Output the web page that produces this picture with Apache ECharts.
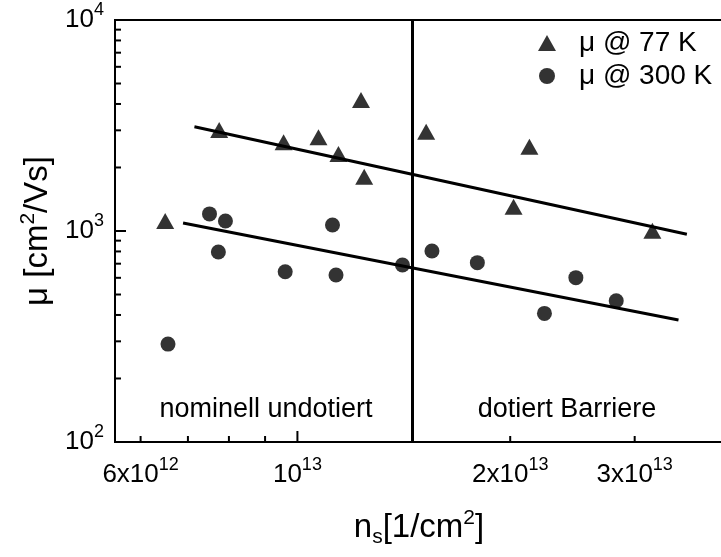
<!DOCTYPE html>
<html>
<head>
<meta charset="utf-8">
<script src="https://cdn.jsdelivr.net/npm/echarts@6/dist/echarts.min.js"></script>
<style>html,body{margin:0;padding:0;background:#fff}#c{width:721px;height:557px}</style>
</head>
<body>
<div id="c"></div>
<script>
// ---- data ----
const seriesNames = ['μ @ 77 K', 'μ @ 300 K'];
const ns77 = [6.50e12, 7.75e12, 9.56e12, 1.071e13, 1.143e13, 1.230e13, 1.243e13, 1.521e13, 2.022e13, 2.129e13, 3.178e13];
const mu77 = [1115, 3011, 2633, 2780, 2317, 4178, 1808, 2955, 1304, 2509, 1003];
const ns300 = [6.56e12, 7.51e12, 7.73e12, 7.91e12, 9.61e12, 1.121e13, 1.134e13, 1.408e13, 1.550e13, 1.797e13, 2.236e13, 2.477e13, 2.825e13];
const mu300 = [291, 1205, 795, 1115, 641, 1068, 619, 690, 804, 708, 407, 601, 467];
const fitNs77 = [7.15e12, 3.556e13];
const fitMu77 = [3121, 965];
const fitNs300 = [6.89e12, 3.46e13];
const fitMu300 = [1091, 379];
const boundaryNs = 1.453e13;
const regionLabels = ['nominell undotiert', 'dotiert Barriere'];

const xRange = [5.52e12, 4.0e13];
const yRange = [100, 10000];
const xLabelValues = [6e12, 1e13, 2e13, 3e13];
const xLabelTexts = ['{b|6x10}{s|12}', '{b|10}{s|13}', '{b|2x10}{s|13}', '{b|3x10}{s|13}'];
const xMajorTicks = [1e13];
const xMinorTicks = [6e12, 7e12, 8e12, 9e12, 2e13, 3e13, 4e13];
const yLabelValues = [100, 1000, 10000];
const yLabelTexts = ['{b|10}{s|2}', '{b|10}{s|3}', '{b|10}{s|4}'];
const yMajorTicks = [100, 1000, 10000];
const yMinorTicks = [200, 300, 400, 500, 600, 700, 800, 900, 2000, 3000, 4000, 5000, 6000, 7000, 8000, 9000];
const xTitle = '{t|n}{sub|s}{t|[1/cm}{sup|2}{t|]}';
const yTitle = '{t|μ [cm}{sup|2}{t|/Vs]}';

// ---- helpers ----
const FONT = '"Liberation Sans", Arial, Helvetica, sans-serif';
function pick(values, texts, v) {
  let best = 0, bd = Infinity;
  values.forEach((t, i) => {
    const d = Math.abs(Math.log10(t) - Math.log10(v));
    if (d < bd) { bd = d; best = i; }
  });
  return bd < 0.01 ? texts[best] : '';
}
const pairs = (xs, ys) => xs.map((x, i) => [x, ys[i]]);
const labelRich = {
  b: { fontSize: 26, lineHeight: 38, fontFamily: FONT, color: '#000' },
  s: { fontSize: 18, lineHeight: 18, verticalAlign: 'top', fontFamily: FONT, color: '#000' }
};
const titleRich = {
  t: { fontSize: 33, lineHeight: 40, fontFamily: FONT, color: '#000' },
  sup: { fontSize: 21, lineHeight: 21, verticalAlign: 'top', fontFamily: FONT, color: '#000' },
  sub: { fontSize: 21, lineHeight: 21, verticalAlign: 'bottom', fontFamily: FONT, color: '#000' }
};
const axisLineStyle = { color: '#000', width: 2 };
const TICK_MAJOR = 11, TICK_MINOR = 6;

const xTickData = xMajorTicks.map(v => [v, yRange[0], TICK_MAJOR])
  .concat(xMinorTicks.map(v => [v, yRange[0], TICK_MINOR]));
const yTickData = yMajorTicks.map(v => [xRange[0], v, TICK_MAJOR])
  .concat(yMinorTicks.map(v => [xRange[0], v, TICK_MINOR]));

const chart = echarts.init(document.getElementById('c'), null, { renderer: 'canvas' });
chart.setOption({
  animation: false,
  backgroundColor: '#fff',
  textStyle: { fontFamily: FONT, color: '#000' },
  grid: {
    left: 115, top: 20, width: 608, height: 422,
    show: true, borderColor: '#000', borderWidth: 2, backgroundColor: 'transparent',
    outerBoundsMode: 'none', containLabel: false
  },
  legend: {
    orient: 'vertical', left: 533, top: 24, itemWidth: 18, itemHeight: 16, itemGap: 5,
    textStyle: { fontSize: 28, fontFamily: FONT, color: '#000', lineHeight: 24, padding: [0, 0, 0, 18] },
    data: [{ name: seriesNames[0], icon: 'triangle' }, { name: seriesNames[1], icon: 'circle' }]
  },
  xAxis: {
    type: 'log', logBase: 10, min: xRange[0], max: xRange[1], position: 'bottom',
    axisLine: { show: true, lineStyle: axisLineStyle },
    axisTick: { show: false },
    axisLabel: {
      show: true, customValues: xLabelValues, margin: 14,
      fontFamily: FONT, color: '#000', rich: labelRich,
      formatter: v => pick(xLabelValues, xLabelTexts, v)
    },
    splitLine: { show: false }, minorTick: { show: false },
    name: xTitle, nameLocation: 'middle', nameGap: 66, nameMoveOverlap: false,
    nameTextStyle: { fontFamily: FONT, color: '#000', rich: titleRich }
  },
  yAxis: {
    type: 'log', logBase: 10, min: yRange[0], max: yRange[1], position: 'left',
    axisLine: { show: true, lineStyle: axisLineStyle },
    axisTick: { show: false },
    axisLabel: {
      show: true, customValues: yLabelValues, margin: 11,
      fontFamily: FONT, color: '#000', rich: labelRich,
      formatter: v => pick(yLabelValues, yLabelTexts, v)
    },
    splitLine: { show: false }, minorTick: { show: false },
    name: yTitle, nameLocation: 'middle', nameGap: 57, nameMoveOverlap: false,
    nameTextStyle: { fontFamily: FONT, color: '#000', rich: titleRich }
  },
  series: [
    {
      name: seriesNames[0], type: 'scatter',
      symbol: 'triangle', symbolSize: [18, 16], itemStyle: { color: '#000' },
      data: pairs(ns77, mu77), z: 5,
      markLine: {
        silent: true, symbol: ['none', 'none'], label: { show: false },
        lineStyle: { color: '#000', width: 3, type: 'solid' },
        data: [{ xAxis: boundaryNs }]
      }
    },
    {
      name: seriesNames[1], type: 'scatter',
      symbol: 'circle', symbolSize: 15, itemStyle: { color: '#000' },
      data: pairs(ns300, mu300), z: 5
    },
    {
      name: 'fit77', type: 'line', symbol: 'none', silent: true,
      lineStyle: { color: '#000', width: 3 }, data: pairs(fitNs77, fitMu77), z: 3
    },
    {
      name: 'fit300', type: 'line', symbol: 'none', silent: true,
      lineStyle: { color: '#000', width: 3 }, data: pairs(fitNs300, fitMu300), z: 3
    },
    {
      name: 'xticks', type: 'custom', clip: false, z: 6, silent: true,
      data: xTickData,
      renderItem: (params, api) => {
        const p = api.coord([api.value(0), api.value(1)]);
        const len = api.value(2);
        return { type: 'line', shape: { x1: p[0], y1: p[1], x2: p[0], y2: p[1] - len },
                 style: { stroke: '#000', lineWidth: 2 } };
      }
    },
    {
      name: 'yticks', type: 'custom', clip: false, z: 6, silent: true,
      data: yTickData,
      renderItem: (params, api) => {
        const p = api.coord([api.value(0), api.value(1)]);
        const len = api.value(2);
        return { type: 'line', shape: { x1: p[0], y1: p[1], x2: p[0] + len, y2: p[1] },
                 style: { stroke: '#000', lineWidth: 2 } };
      }
    }
  ],
  graphic: [
    { type: 'text', x: 266, y: 423, style: { text: regionLabels[0], font: '27px ' + FONT, fill: '#000', textAlign: 'center', textVerticalAlign: 'bottom' } },
    { type: 'text', x: 567, y: 423, style: { text: regionLabels[1], font: '27px ' + FONT, fill: '#000', textAlign: 'center', textVerticalAlign: 'bottom' } }
  ]
});
</script>
</body>
</html>
